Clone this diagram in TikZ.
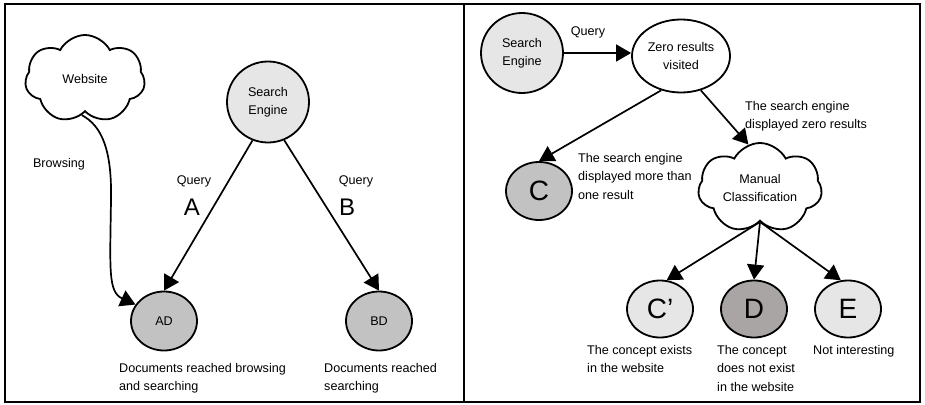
\documentclass[tikz,border=0pt]{standalone}
\usepackage{fontspec}
\setmainfont{Liberation Sans}
\usetikzlibrary{shapes.geometric,shapes.symbols,arrows.meta}
\definecolor{lgray}{HTML}{E6E6E6}
\definecolor{mgray}{HTML}{C2C2C2}
\definecolor{dgray}{HTML}{A9A5A5}
\begin{document}
\begin{tikzpicture}[x=1pt,y=-1pt,
  every node/.style={font=\fontsize{12.6}{18.5}\selectfont},
  bord/.style={draw, line width=1.8pt},
  circ/.style={bord, ellipse, inner sep=0pt, align=center},
  cloudn/.style={bord, cloud, cloud puffs=7, cloud puff arc=125, cloud ignores aspect, inner sep=0pt, fill=white, align=center},
  lbl/.style={anchor=north west, align=left, inner sep=0pt},
  bigA/.style={font=\fontsize{24}{28}\selectfont},
  bigL/.style={font=\fontsize{28}{32}\selectfont},
  arr/.style={line width=1.7pt, -{Triangle[length=15pt,width=17pt]}},
]
\useasboundingbox (0,0) rectangle (925,404);
\draw[line width=1.8pt] (5,4) rectangle (920,402);
\draw[line width=1.8pt] (464,4) -- (464,402);

% left panel
\node[cloudn, minimum width=120pt, minimum height=88pt] (web) at (85,79) {Website};
\node[circ, fill=lgray, minimum width=82pt, minimum height=81pt] (se) at (268,102) {Search\\Engine};
\node[circ, fill=mgray, minimum width=66pt, minimum height=59pt] (ad) at (164,321) {AD};
\node[circ, fill=mgray, minimum width=66pt, minimum height=59pt] (bd) at (379,321) {BD};
\node (brow) at (59,164) {Browsing};
\node (qa) at (194,181) {Query};
\node[bigA] (la) at (192,207) {A};
\node (qb) at (356,181) {Query};
\node[bigA] (lb) at (347,207) {B};
\node[lbl] (tad) at (119,363) {Documents reached browsing\\and searching};
\node[lbl] (tbd) at (324,363) {Documents reached\\searching};

\draw[arr] (se.248) -- (ad.north);
\draw[arr] (se.293) -- (bd.north);
\draw[arr] (web.265) .. controls (102,126) and (112,150) .. (111,200)
  .. controls (110,270) and (108,292) .. (ad.150);

% right panel
\node[circ, fill=lgray, minimum width=82pt, minimum height=80pt] (se2) at (522,53) {Search\\Engine};
\node[circ, fill=white, minimum width=98pt, minimum height=73pt] (zero) at (681,56) {Zero results\\visited};
\node[circ, fill=mgray, minimum width=66pt, minimum height=58pt, bigL] (c) at (539,191) {C};
\node[cloudn, minimum width=124pt, minimum height=90pt] (mc) at (760,188) {Manual\\Classification};
\node[circ, fill=lgray, minimum width=66pt, minimum height=57pt, bigL] (cp) at (660,309) {C’};
\node[circ, fill=dgray, minimum width=66pt, minimum height=57pt, bigL] (d) at (754,309) {D};
\node[circ, fill=lgray, minimum width=66pt, minimum height=57pt, bigL] (e) at (848,309) {E};
\node (q2) at (588,32) {Query};
\node[lbl] (t1) at (745,101) {The search engine\\displayed zero results};
\node[lbl] (t2) at (578,153) {The search engine\\displayed more than\\one result};
\node[lbl] (t3) at (587,345) {The concept exists\\in the website};
\node[lbl] (t4) at (717,345) {The concept\\does not exist\\in the website};
\node[lbl] (t5) at (813,345) {Not interesting};

\draw[arr] (se2.east) -- (zero.west |- se2.east);
\draw[arr] (zero.240) -- (c.north);
\draw[arr] (zero.300) -- (mc.105);
\draw[arr] (mc.south) -- (cp.77);
\draw[arr] (mc.south) -- (d.north);
\draw[arr] (mc.south) -- (e.104);
\end{tikzpicture}
\end{document}
